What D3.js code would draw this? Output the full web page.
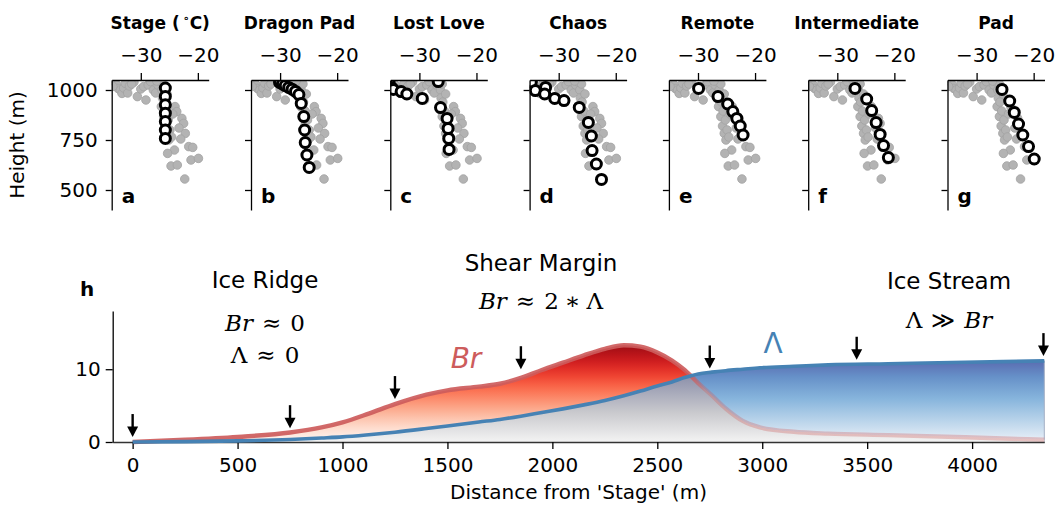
<!DOCTYPE html>
<html>
<head>
<meta charset="utf-8">
<script src="https://cdn.jsdelivr.net/npm/d3@7"></script>
<style>
  body { margin: 0; background: #fff; }
  text { font-family: "DejaVu Sans", sans-serif; }
  .math { font-family: "DejaVu Serif", serif; }
</style>
</head>
<body>
<div id="chart"></div>
<script>
// ---- data: temperature profiles (panels a-g) ----
const sites = ["Stage", "Dragon Pad", "Lost Love", "Chaos", "Remote", "Intermediate", "Pad"];
const panelLetters = ["a", "b", "c", "d", "e", "f", "g"];
const tempTicks = [-30, -20];
const heightTicks = [500, 750, 1000];

// all measured profiles (grey background cloud)
const greyTemp = [-34.6, -34.2, -34.0, -33.6, -33.3, -33.0, -32.7, -32.3, -32.0, -31.2, -30.6, -30.0,
  -29.5, -29.1, -28.7, -28.3, -27.8, -27.4, -27.0, -26.6, -26.3, -26.2, -26.4, -25.9, -26.0, -25.6,
  -25.7, -25.2, -25.4, -24.9, -25.1, -24.6, -24.0, -23.7, -22.8, -22.5, -23.3, -22.2, -23.0, -24.1,
  -25.3, -21.6, -20.9, -21.2, -19.9, -24.7, -23.6, -22.3, -34.9, -31.6, -26.0, -25.4, -27.2, -24.4];
const greyHeight = [1040, 1025, 1008, 1000, 983, 1010, 1033, 985, 1020, 1040, 967, 1005,
  1017, 950, 1025, 1042, 1000, 985, 1025, 1040, 1000, 960, 917, 940, 867, 895,
  820, 850, 783, 800, 750, 765, 917, 892, 858, 833, 810, 783, 755, 700,
  683, 717, 713, 650, 658, 620, 625, 555, 1018, 1030, 1030, 980, 1045, 880];

// highlighted profile for each site
const profileTemp = [
  [-25.7, -25.7, -25.7, -25.7, -25.7, -25.7, -25.7],
  [-30.1, -29.6, -29.1, -28.5, -27.9, -27.3, -26.7, -26.3, -25.85, -25.7, -25.6, -25.3, -24.9],
  [-35.3, -34.9, -34.6, -33.2, -32.2, -29.5, -26.7, -26.3, -25.15, -24.97, -24.86, -24.8],
  [-34.8, -34.1, -32.3, -32.46, -30.7, -29.07, -26.4, -24.8, -24.27, -24.15, -23.4, -22.5],
  [-29.9, -26.5, -24.8, -23.9, -23.2, -22.6, -22.1],
  [-26.9, -24.85, -23.97, -23.2, -22.5, -21.9, -21.05],
  [-25.55, -24.2, -23.4, -22.65, -21.9, -20.9, -19.9]
];
const profileHeight = [
  [1010, 968, 926, 884, 842, 800, 758],
  [1038, 1030, 1022, 1013, 1004, 993, 977, 933, 867, 800, 737, 675, 613],
  [1048, 1013, 1003, 992, 980, 958, 1042, 912, 858, 808, 758, 703],
  [1040, 997, 1013, 980, 958, 947, 913, 838, 770, 697, 630, 553],
  [1008, 967, 930, 892, 858, 820, 775],
  [1008, 955, 897, 837, 778, 722, 662],
  [1003, 945, 888, 830, 775, 717, 655]
];

// ---- data: Brinkman number vs Lambda along the flow line (panel h) ----
const distance = [0, 250, 500, 750, 900, 1000, 1125, 1250, 1400, 1500, 1650, 1750, 1850, 1950, 2050,
  2150, 2250, 2340, 2420, 2500, 2570, 2630, 2695, 2760, 2826, 2907, 2989, 3150, 3315, 3600, 3968, 4344];
const brValues = [0, 0.3, 0.7, 1.3, 2.0, 2.7, 3.9, 5.2, 6.5, 7.1, 7.6, 8.0, 8.8, 9.9, 10.9,
  11.9, 12.8, 13.3, 13.1, 12.3, 11.2, 9.9, 8.1, 6.4, 4.6, 2.9, 2.0, 1.4, 1.15, 0.95, 0.65, 0.3];
const lambdaValues = [0, 0.05, 0.15, 0.35, 0.55, 0.7, 1.0, 1.35, 1.85, 2.2, 2.75, 3.1, 3.55, 4.05, 4.55,
  5.1, 5.7, 6.35, 7.0, 7.7, 8.25, 8.85, 9.35, 9.6, 9.8, 10.0, 10.2, 10.4, 10.6, 10.75, 10.95, 11.15];
const distTicks = [0, 500, 1000, 1500, 2000, 2500, 3000, 3500, 4000];
const numTicks = [0, 10];
const arrowDist = [0, 750, 1250, 1850, 2750, 3450, 4340];
const arrowTip = [0.68, 1.9, 5.9, 10.0, 10.1, 11.3, 11.8];

const width = 1057;
const height = 507;

const svg = d3.select("#chart")
    .append("svg")
    .attr("width", width)
    .attr("height", height);
const defs = svg.append("defs");

function styleAxis(g, fontSize) {
    g.attr("font-family", "DejaVu Sans, sans-serif").attr("font-size", fontSize);
    g.selectAll("path.domain").attr("stroke", "#000").attr("stroke-width", 1.3);
    g.selectAll(".tick line").attr("stroke", "#000").attr("stroke-width", 1.3);
    g.selectAll(".tick text").attr("fill", "#000");
}

// ---------- top row: temperature profiles ----------
const pLeft = 111.7, pStep = 139.3, pW = 97, pTop = 80, pH = 130;
const x = d3.scaleLinear().domain([-35.1, -18.1]).range([0, pW]);
const y = d3.scaleLinear().domain([400, 1050]).range([pH, 0]);

const grey = greyTemp.map((t, i) => ({ t: t, h: greyHeight[i] }));

sites.forEach(function(site, i) {
    const g = svg.append("g")
        .attr("transform", `translate(${pLeft + i * pStep},${pTop})`);

    defs.append("clipPath").attr("id", "clip" + i)
        .append("rect").attr("width", pW).attr("height", pH);

    const pts = g.append("g").attr("clip-path", `url(#clip${i})`);

    pts.selectAll(".grey")
        .data(grey)
        .enter().append("circle")
        .attr("class", "grey")
        .attr("cx", d => x(d.t))
        .attr("cy", d => y(d.h))
        .attr("r", 4.3)
        .attr("fill", "#b3b3b3")
        .attr("stroke", "#a2a2a2")
        .attr("stroke-width", 0.8);

    const prof = profileTemp[i].map((t, j) => ({ t: t, h: profileHeight[i][j] }));
    pts.selectAll(".prof")
        .data(prof)
        .enter().append("circle")
        .attr("class", "prof")
        .attr("cx", d => x(d.t))
        .attr("cy", d => y(d.h))
        .attr("r", 5)
        .attr("fill", "#fff")
        .attr("stroke", "#000")
        .attr("stroke-width", 3);

    const xa = g.append("g")
        .call(d3.axisTop(x).tickValues(tempTicks).tickSize(7).tickSizeOuter(0).tickPadding(11));
    styleAxis(xa, 20);

    const ya = g.append("g")
        .call(d3.axisLeft(y).tickValues(heightTicks).tickSize(6).tickSizeOuter(0).tickPadding(8)
            .tickFormat(i === 0 ? d3.format("d") : () => ""));
    styleAxis(ya, 20);

    // site name
    const title = g.append("text")
        .attr("x", pW / 2)
        .attr("y", 29 - pTop)
        .attr("text-anchor", "middle")
        .attr("font-size", 17)
        .attr("font-weight", "bold")
        .text(i === 0 ? "Stage (" : site);
    if (i === 0) {
        title.append("tspan").attr("font-size", 11).attr("dy", -7).attr("dx", 3).text("\u2218");
        title.append("tspan").attr("dy", 7).text("C)");
    }

    g.append("text")
        .attr("x", 10)
        .attr("y", 123)
        .attr("font-size", 20)
        .attr("font-weight", "bold")
        .text(panelLetters[i]);
});

svg.append("text")
    .attr("transform", "translate(24,145) rotate(-90)")
    .attr("text-anchor", "middle")
    .attr("font-size", 20)
    .text("Height (m)");

// ---------- bottom panel h ----------
const xh = d3.scaleLinear().domain([-95, 4344]).range([112.7, 1044.3]);
const yh = d3.scaleLinear().domain([0, 18]).range([442, 311]);

const flow = distance.map((d, i) => ({ x: d, br: brValues[i], lam: lambdaValues[i] }));

function vGradient(id, stops) {
    const grad = defs.append("linearGradient")
        .attr("id", id)
        .attr("gradientUnits", "userSpaceOnUse")
        .attr("x1", 0).attr("x2", 0)
        .attr("y1", yh(0)).attr("y2", yh(15));
    stops.forEach(s => {
        grad.append("stop").attr("offset", s[0] / 15).attr("stop-color", s[1]);
    });
}
vGradient("redGrad", d3.range(0, 16).map(v => [v, d3.interpolateReds(v / 15)]));
vGradient("blueGrad", [[0, "#ebf1f8"], [3, "#b8d3ea"], [6, "#86b4dc"], [9, "#6690c8"], [11.2, "#5a6bb0"], [15, "#5a6bb0"]]);
vGradient("greyGrad", [[0, "#f3f3f3"], [4, "#cacace"], [9, "#8d91ab"], [15, "#8d91ab"]]);

const brArea = d3.area()
    .x(d => xh(d.x)).y0(yh(0)).y1(d => yh(d.br))
    .curve(d3.curveMonotoneX);
const lamArea = d3.area()
    .x(d => xh(d.x)).y0(yh(0)).y1(d => yh(d.lam))
    .curve(d3.curveMonotoneX);
const brLine = d3.line().x(d => xh(d.x)).y(d => yh(d.br)).curve(d3.curveMonotoneX);
const lamLine = d3.line().x(d => xh(d.x)).y(d => yh(d.lam)).curve(d3.curveMonotoneX);

defs.append("clipPath").attr("id", "brClip")
    .append("path").attr("d", brArea(flow));

svg.append("path")
    .attr("d", lamArea(flow))
    .attr("fill", "url(#blueGrad)")
    .attr("stroke", "#a3aec4")
    .attr("stroke-width", 1);

svg.append("path")
    .attr("d", brArea(flow))
    .attr("fill", "url(#redGrad)");

svg.append("path")
    .attr("d", lamArea(flow))
    .attr("clip-path", "url(#brClip)")
    .attr("fill", "url(#greyGrad)");

// where Lambda overtakes Br, the Br line fades under the blue fill
let crossX = distance[distance.length - 1];
for (let i = 6; i < flow.length - 1; i++) {
    const a = flow[i].br - flow[i].lam, b = flow[i + 1].br - flow[i + 1].lam;
    if (a > 0 && b <= 0) {
        crossX = flow[i].x + (flow[i + 1].x - flow[i].x) * a / (a - b);
        break;
    }
}
const brStroke = defs.append("linearGradient")
    .attr("id", "brStroke")
    .attr("gradientUnits", "userSpaceOnUse")
    .attr("x1", xh(crossX) - 2).attr("x2", xh(crossX) + 14)
    .attr("y1", 0).attr("y2", 0);
brStroke.append("stop").attr("offset", 0).attr("stop-color", "#cd5c5c").attr("stop-opacity", 0.92);
brStroke.append("stop").attr("offset", 1).attr("stop-color", "#cd5c5c").attr("stop-opacity", 0.32);

svg.append("path")
    .attr("d", brLine(flow))
    .attr("fill", "none")
    .attr("stroke", "url(#brStroke)")
    .attr("stroke-width", 4.4);

// axes
const xha = svg.append("g")
    .attr("transform", `translate(0,${yh(0)})`)
    .call(d3.axisBottom(xh).tickValues(distTicks).tickSize(7).tickSizeOuter(0).tickPadding(9)
        .tickFormat(d3.format("d")));
styleAxis(xha, 20);
xha.select("path.domain").attr("stroke", "#333");

const yha = svg.append("g")
    .attr("transform", `translate(${xh.range()[0]},0)`)
    .call(d3.axisLeft(yh).tickValues(numTicks).tickSize(7).tickSizeOuter(0).tickPadding(5));
styleAxis(yha, 20);

svg.append("path")
    .attr("d", lamLine(flow))
    .attr("fill", "none")
    .attr("stroke", "#4682b4")
    .attr("stroke-width", 3.6);

// arrows marking the borehole sites
svg.selectAll(".site-arrow")
    .data(arrowDist.map((d, i) => ({ x: d, tip: arrowTip[i] })))
    .enter().append("g")
    .attr("class", "site-arrow")
    .attr("transform", d => `translate(${xh(d.x)},${yh(d.tip)})`)
    .each(function() {
        const a = d3.select(this);
        a.append("line")
            .attr("x1", 0).attr("x2", 0)
            .attr("y1", -23).attr("y2", -8)
            .attr("stroke", "#000").attr("stroke-width", 2.4);
        a.append("path")
            .attr("d", "M-5.5,-10.5L5.5,-10.5L0,0Z")
            .attr("fill", "#000");
    });

svg.append("text")
    .attr("x", (xh.range()[0] + xh.range()[1]) / 2)
    .attr("y", 499)
    .attr("text-anchor", "middle")
    .attr("font-size", 20)
    .text("Distance from 'Stage' (m)");

svg.append("text")
    .attr("x", 80).attr("y", 296)
    .attr("font-size", 20).attr("font-weight", "bold")
    .text("h");

// regime annotations
const labels = [
    { x: 265, y: 288, t: "Ice Ridge" },
    { x: 541, y: 271, t: "Shear Margin" },
    { x: 949, y: 289, t: "Ice Stream" }
];
labels.forEach(l => {
    svg.append("text")
        .attr("x", l.x).attr("y", l.y)
        .attr("text-anchor", "middle")
        .attr("font-size", 23)
        .text(l.t);
});

// parts: [text, italic, gap before (px)]
function mathText(xp, yp, parts) {
    const t = svg.append("text")
        .attr("class", "math")
        .attr("x", xp).attr("y", yp)
        .attr("text-anchor", "middle")
        .attr("font-size", 23);
    parts.forEach(p => {
        t.append("tspan")
            .attr("font-style", p[1] ? "italic" : "normal")
            .attr("dx", p[2] || 0)
            .text(p[0]);
    });
}
mathText(265, 331, [["Br", true], ["\u2248", false, 9], ["0", false, 9]]);
mathText(265, 363, [["\u039B", false], ["\u2248", false, 9], ["0", false, 9]]);
mathText(541, 309, [["Br", true], ["\u2248", false, 9], ["2", false, 9], ["\u2217", false, 6], ["\u039B", false, 6]]);
mathText(949, 328, [["\u039B", false], ["\u226B", false, 9], ["Br", true, 9]]);

svg.append("text")
    .attr("x", 466).attr("y", 368)
    .attr("text-anchor", "middle")
    .attr("font-size", 28)
    .attr("font-style", "italic")
    .attr("fill", "#cd5c5c")
    .text("Br");

svg.append("text")
    .attr("x", 773).attr("y", 353)
    .attr("text-anchor", "middle")
    .attr("font-size", 28)
    .attr("fill", "#4682b4")
    .text("\u039B");
</script>
</body>
</html>
